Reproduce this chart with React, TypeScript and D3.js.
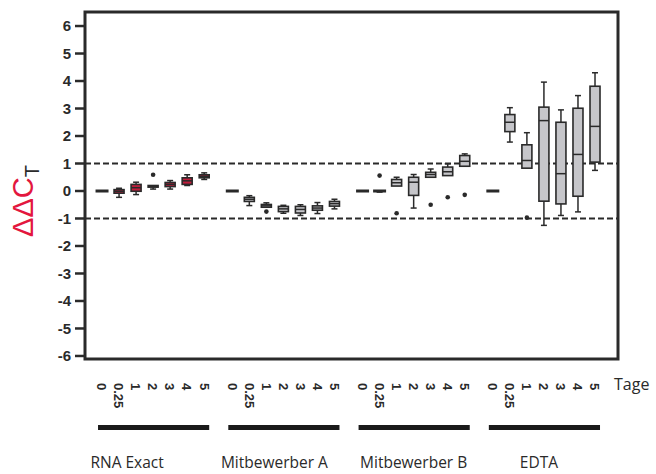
import React from 'react';
import * as d3 from 'd3';

// [whisker low, q1, median, q3, whisker high]
type Stat = [number, number, number, number, number];

const groups = ['RNA Exact', 'Mitbewerber A', 'Mitbewerber B', 'EDTA'];
const days = ['0', '0.25', '1', '2', '3', '4', '5'];
const yTicks = [6, 5, 4, 3, 2, 1, 0, -1, -2, -3, -4, -5, -6];
const limits = [1, -1];

const rnaExact: Stat[] = [
  [0, 0, 0, 0, 0],
  [-0.23, -0.08, -0.01, 0.05, 0.1],
  [-0.13, -0.01, 0.12, 0.24, 0.32],
  [0.07, 0.14, 0.18, 0.2, 0.2],
  [0.07, 0.16, 0.24, 0.31, 0.38],
  [0.2, 0.24, 0.37, 0.48, 0.59],
  [0.42, 0.48, 0.53, 0.59, 0.66],
];
const mitbewerberA: Stat[] = [
  [0, 0, 0, 0, 0],
  [-0.53, -0.38, -0.3, -0.23, -0.17],
  [-0.59, -0.59, -0.54, -0.49, -0.43],
  [-0.81, -0.75, -0.65, -0.56, -0.52],
  [-0.89, -0.8, -0.67, -0.56, -0.5],
  [-0.82, -0.7, -0.62, -0.54, -0.42],
  [-0.65, -0.55, -0.46, -0.38, -0.3],
];
const mitbewerberB: Stat[] = [
  [0, 0, 0, 0, 0],
  [-0.04, 0, 0, 0, 0],
  [0.18, 0.18, 0.3, 0.42, 0.5],
  [-0.62, -0.16, 0.32, 0.5, 0.6],
  [0.5, 0.5, 0.6, 0.68, 0.8],
  [0.56, 0.56, 0.7, 0.87, 0.99],
  [0.9, 0.9, 1.08, 1.29, 1.35],
];
const edta: Stat[] = [
  [0, 0, 0, 0, 0],
  [1.78, 2.16, 2.5, 2.78, 3.03],
  [0.83, 0.83, 1.11, 1.68, 2.12],
  [-1.25, -0.37, 2.56, 3.05, 3.96],
  [-0.89, -0.47, 0.63, 2.5, 2.95],
  [-0.76, -0.19, 1.33, 3.01, 3.47],
  [0.75, 1.05, 2.35, 3.81, 4.3],
];

// outliers per day, per group
const rnaExactOut: number[][] = [[], [], [], [0.59], [], [], []];
const mitbewerberAOut: number[][] = [[], [], [-0.75], [], [], [], []];
const mitbewerberBOut: number[][] = [[], [0.56], [-0.81], [], [-0.5], [-0.23], [-0.14]];
const edtaOut: number[][] = [[], [], [-0.97], [], [], [], []];

const stats = [rnaExact, mitbewerberA, mitbewerberB, edta];
const outliers = [rnaExactOut, mitbewerberAOut, mitbewerberBOut, edtaOut];

const W = 656, H = 474;
const left = 85, right = 618, top = 12, bottom = 359;
const groupStep = 7.65;
const boxW = 10;
const ink = '#2a2a2a';
const sans = "'Liberation Sans', Arial, sans-serif";
const labelFont = "'Open Sans', sans-serif";

export default function App() {
  const y = d3.scaleLinear().domain([-6.11, 6.51]).range([bottom, top]);
  const x = d3.scaleLinear().domain([-1, 30.3]).range([left, right]);
  const pos = (g: number, i: number) => x(g * groupStep + i);

  const labelNudge = [-26, -9, 0, -5];

  return (
    <svg width={W} height={H} style={{ position: 'absolute', left: 0, top: 0 }}>
      <rect x={0} y={0} width={W} height={H} fill="white" />

      {/* reference lines */}
      {limits.map(v => (
        <line key={v} x1={left} x2={right} y1={y(v)} y2={y(v)}
          stroke={ink} strokeWidth={2} strokeDasharray="6,3" />
      ))}

      {/* boxes */}
      {stats.map((grp, g) => grp.map((s, i) => {
        const cx = pos(g, i);
        const [lo, q1, med, q3, hi] = s;
        const fill = g === 0 ? '#c21d3c' : '#c6c6ca';
        return (
          <g key={g + '-' + i} stroke={ink}>
            <line x1={cx} x2={cx} y1={y(hi)} y2={y(q3)} strokeWidth={1.5} />
            <line x1={cx} x2={cx} y1={y(q1)} y2={y(lo)} strokeWidth={1.5} />
            {hi > q3 && <line x1={cx - 3} x2={cx + 3} y1={y(hi)} y2={y(hi)} strokeWidth={1.5} />}
            {lo < q1 && <line x1={cx - 3} x2={cx + 3} y1={y(lo)} y2={y(lo)} strokeWidth={1.5} />}
            <rect x={cx - boxW / 2} width={boxW} y={y(q3)}
              height={Math.max(y(q1) - y(q3), 0.01)}
              fill={fill} strokeWidth={q3 === q1 ? 3 : 1.6} />
            <line x1={cx - boxW / 2} x2={cx + boxW / 2} y1={y(med)} y2={y(med)} strokeWidth={1.5} />
            {outliers[g][i].map((o, k) => (
              <circle key={k} cx={cx} cy={y(o)} r={2.3} fill={ink} stroke="none" />
            ))}
          </g>
        );
      }))}

      {/* frame */}
      <rect x={left} y={top} width={right - left} height={bottom - top}
        fill="none" stroke={ink} strokeWidth={3} />

      {/* y axis */}
      {yTicks.map(t => (
        <g key={t}>
          <line x1={left - 10} x2={left} y1={y(t)} y2={y(t)} stroke={ink} strokeWidth={2.5} />
          <text x={71} y={y(t)} dy="0.36em" textAnchor="end"
            style={{ fontFamily: sans, fontSize: 15, fontWeight: 700 }} fill={ink}>{t}</text>
        </g>
      ))}

      <text transform={`translate(33,${(172 + 230) / 2}) rotate(-90)`} textAnchor="middle"
        style={{ fontFamily: sans, fontSize: 29 }} fill="#e3173e">
        ΔΔC<tspan fill={ink} style={{ fontSize: 20 }} dy={6}>T</tspan>
      </text>

      {/* x labels */}
      {groups.map((name, g) => (
        <g key={name}>
          {days.map((d, i) => (
            <text key={d} transform={`translate(${pos(g, i)},383) rotate(90)`}
              dy="0.36em" style={{ fontFamily: sans, fontSize: 13, fontWeight: 700 }} fill={ink}>{d}</text>
          ))}
          <rect x={pos(g, 0) - 4} width={pos(g, 6) - pos(g, 0) + 9} y={425} height={5} fill="#1a1a1a" />
          <text x={(pos(g, 0) + pos(g, 6)) / 2 + labelNudge[g]} y={468} textAnchor="middle"
            style={{ fontFamily: labelFont, fontSize: 15.5 }} fill={ink}>{name}</text>
        </g>
      ))}
      <text x={614} y={390} style={{ fontFamily: labelFont, fontSize: 16 }} fill={ink}>Tage</text>
    </svg>
  );
}
